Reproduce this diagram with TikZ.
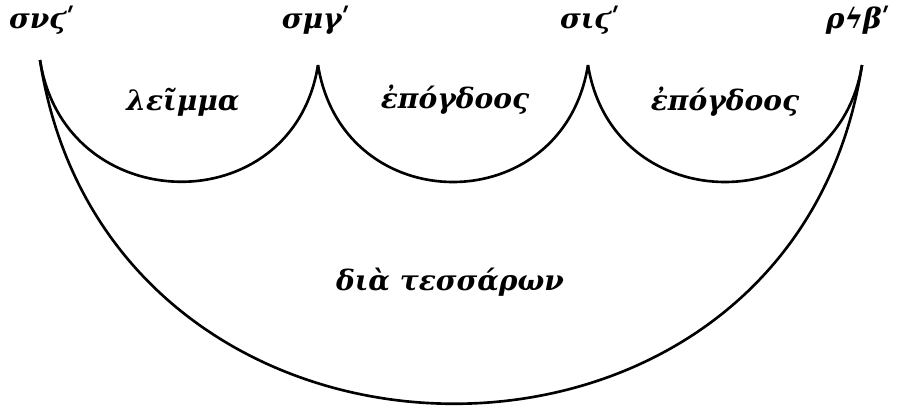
\documentclass[tikz,border=0pt]{standalone}
\usepackage{fontspec}
\setmainfont{DejaVu Serif}
\usepackage{tikz}
\usetikzlibrary{positioning}

\begin{document}
\begin{tikzpicture}[
    x=0.02cm, y=-0.02cm,
    font=\fontsize{16}{19}\selectfont\bfseries\itshape,
    nombre/.style={inner sep=1pt, anchor=base},
    nom/.style={inner sep=1pt, anchor=base},
    trait/.style={draw=black, line width=1.5pt}
  ]
    \useasboundingbox (0,0) rectangle (900,407);

    % points of the scale
    \coordinate (p1) at (40,60);
    \coordinate (p2) at (318,65);
    \coordinate (p3) at (588,65);
    \coordinate (p4) at (862,65);

    \node[nombre] (n1) at (42,28)  {σνϛʹ};
    \node[nombre] (n2) at (316,28) {σμγʹ};
    \node[nombre] (n3) at (590,28) {σιϛʹ};
    \node[nombre] (n4) at (858,28) {ρϟβʹ};

    \node[nom] (leimma) at (183,110) {λεῖμμα};
    \node[nom] (ep1)    at (455,108) {ἐπόγδοος};
    \node[nom] (ep2)    at (725,110) {ἐπόγδοος};
    \node[nom] (dia)    at (450,290) {διὰ τεσσάρων};

    \draw[trait] (p1) .. controls +(25,160) and +(-25,158) .. (p2);
    \draw[trait] (p2) .. controls +(25,156) and +(-25,156) .. (p3);
    \draw[trait] (p3) .. controls +(25,156) and +(-25,156) .. (p4);
    \draw[trait] (p1) .. controls +(70,455) and +(-70,455) .. (p4);
  \end{tikzpicture}
\end{document}
